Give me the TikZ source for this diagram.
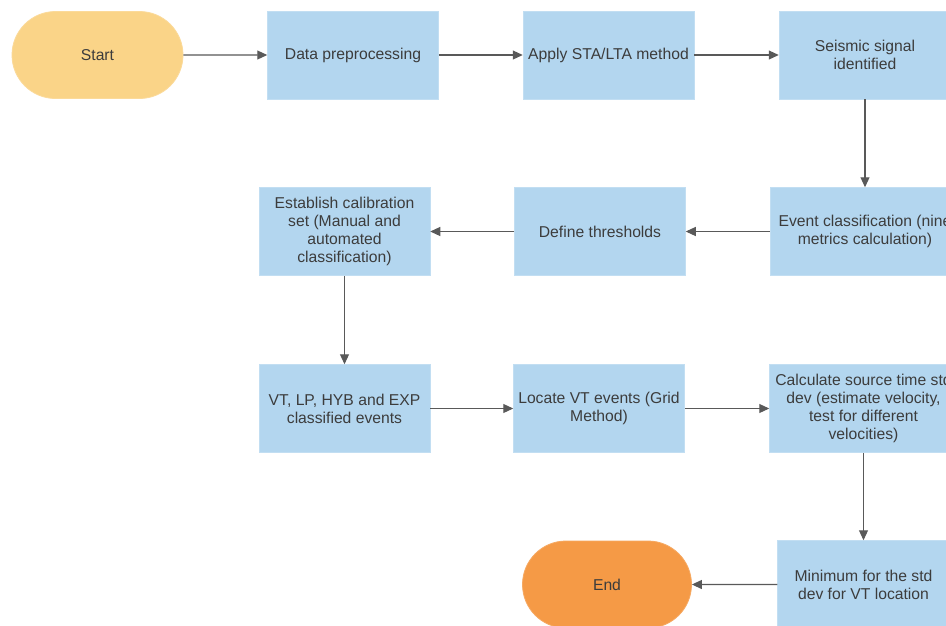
\documentclass[tikz,border=0pt]{standalone}
\usepackage{fontspec}
\setmainfont{Liberation Sans}
\usetikzlibrary{arrows.meta,shapes.misc}
\definecolor{boxblue}{HTML}{B3D6EF}
\definecolor{startyel}{HTML}{FAD488}
\definecolor{endorg}{HTML}{F59A46}
\definecolor{txt}{HTML}{3C3C3C}
\definecolor{arrc}{HTML}{595959}
\tikzset{
  stepbox/.style={rectangle, fill=boxblue, draw=boxblue!80!white, line width=0.5pt, minimum height=88pt, minimum width=171pt, inner sep=0pt, align=center, text=txt, font=\fontsize{15.7}{18}\selectfont},
  pill/.style={rounded rectangle, draw=#1!85!white, fill=#1, line width=0.8pt, minimum height=87pt, minimum width=171pt, inner sep=0pt, text=txt, font=\fontsize{15.7}{18}\selectfont},
  arr/.style={draw=arrc, line width=1.1pt, -{Triangle[length=10pt,width=9pt]}}
}
\begin{document}
\begin{tikzpicture}[x=1pt,y=-1pt]
\path[use as bounding box] (0,0) rectangle (946,625);
\begin{scope}
\clip (0,0) rectangle (946,625);
\fill[white] (0,0) rectangle (946,625);
% row 1
\node[pill=startyel] (start) at (97.5,55) {Start};
\node[stepbox] (prep) at (353,55) {Data preprocessing};
\node[stepbox] (sta) at (608.5,55) {Apply STA/LTA method};
\node[stepbox, minimum width=172pt] (sig) at (865,55) {Seismic signal\\identified};
% row 2
\node[stepbox] (cal) at (344.5,231.5) {Establish calibration\\set (Manual and\\automated\\classification)};
\node[stepbox] (thr) at (600,231.5) {Define thresholds};
\node[stepbox, minimum width=190pt] (cls) at (865,231.5) {Event classification (nine\\metrics calculation)};
% row 3
\node[stepbox] (vt) at (344.5,408.5) {VT, LP, HYB and EXP\\classified events};
\node[stepbox] (loc) at (599,408.5) {Locate VT events (Grid\\Method)};
\node[stepbox, minimum width=188pt] (src) at (863.5,408.5) {Calculate source time std\\dev (estimate velocity,\\test for different\\velocities)};
% row 4
\node[pill=endorg, minimum width=169pt, minimum height=87pt] (end) at (607,584.5) {End};
\node[stepbox, minimum width=172pt, minimum height=88pt] (min) at (863.5,584.5) {Minimum for the std\\dev for VT location};
% connectors
\draw[arr] (start) -- (prep);
\draw[arr] (prep) -- (sta);
\draw[arr] (sta) -- (sig);
\draw[arr] (sig.south) -- (cls.north);
\draw[arr] (cls) -- (thr);
\draw[arr] (thr) -- (cal);
\draw[arr] (cal) -- (vt);
\draw[arr] (vt) -- (loc);
\draw[arr] (loc) -- (src);
\draw[arr] (src.south) -- (min.north);
\draw[arr] (min) -- (end);
\end{scope}
\end{tikzpicture}
\end{document}
